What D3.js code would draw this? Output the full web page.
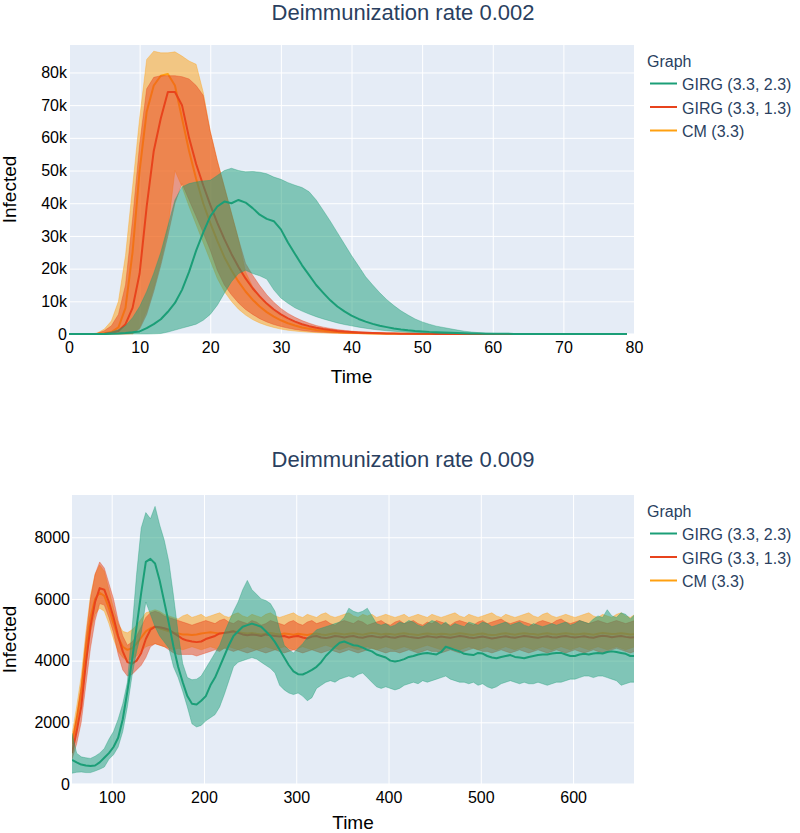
<!DOCTYPE html>
<html>
<head>
<meta charset="utf-8">
<script src="https://cdn.jsdelivr.net/npm/d3@7"></script>
<style>
  html, body { margin: 0; padding: 0; background: #fff; }
  svg { display: block; }
</style>
</head>
<body>
<script>
// ---------------- DATA ----------------
const seriesNames = ["GIRG (3.3, 2.3)", "GIRG (3.3, 1.3)", "CM (3.3)"];
const seriesColors = ["#1b9e77", "#e8431c", "#ffa010"];

// Top panel: deimmunization rate 0.002, time steps 0..79
const topTimes = d3.range(0, 80);
const topXTicks = [0, 10, 20, 30, 40, 50, 60, 70, 80];
const topXTickLabels = ["0", "10", "20", "30", "40", "50", "60", "70", "80"];
const topYTicks = [0, 10000, 20000, 30000, 40000, 50000, 60000, 70000, 80000];
const topYTickLabels = ["0", "10k", "20k", "30k", "40k", "50k", "60k", "70k", "80k"];

const topGreenUpper = [0,0,0,0,50,200,600,1300,2500,5000,
  8400,13000,18600,25000,33000,41000,45000,46000,46500,46800,
  47000,48500,50000,50700,50000,49600,49700,49500,49000,48000,
  47300,46300,45500,44800,43500,41000,37800,34500,31000,27500,
  24000,20800,17500,15000,12600,10500,8700,7100,5800,4600,
  3700,3000,2400,2000,1600,1200,850,600,420,280,
  190,130,90,60,40,28,20,14,10,7,
  5,4,3,2,2,1,1,1,0,0];
const topGreenMean = [0,0,0,0,5,20,60,130,280,500,
  800,1800,3000,4500,6800,9500,13500,19000,25500,31000,
  36000,39000,40500,40000,41000,40200,38500,36500,35200,34500,
  32000,28000,24500,21000,18000,15000,12600,10300,8400,6900,
  5600,4600,3800,3100,2500,2100,1700,1400,1150,950,
  800,650,550,450,380,300,230,180,140,110,
  85,65,50,38,29,22,17,13,10,8,
  6,5,4,3,2,2,1,1,1,0];
const topGreenLower = [0,0,0,0,0,0,0,0,0,0,
  0,0,50,150,600,1200,1800,2400,3000,4200,
  6000,8800,12500,16000,18500,19500,18500,17800,16800,13500,
  11000,9400,8000,7000,6100,5300,4600,4000,3400,2900,
  2500,2100,1750,1450,1200,1000,820,680,550,450,
  360,290,230,180,140,110,85,65,50,40,
  30,22,16,12,9,7,5,4,3,2,
  2,1,0,0,0,0,0,0,0,0];

const topRedUpper = [0,0,0,0,200,1000,2500,6000,15000,35000,
  58000,75000,78500,79000,79000,79000,78700,78000,76000,73000,
  62000,53000,45000,37000,29000,21600,18000,14800,12000,9700,
  7800,6300,5100,4100,3300,2600,2100,1700,1350,1100,
  870,690,550,440,350,280,220,175,140,110,
  85,65,50,40,30,20,12,7,4,2,
  0,0,0,0,0,0,0,0,0,0,
  0,0,0,0,0,0,0,0,0,0];
const topRedMean = [0,0,0,0,20,100,300,900,3000,8000,
  18500,39000,56000,66000,74000,74000,70000,60000,52000,45500,
  39500,34000,29000,24500,20500,17000,14000,11500,9300,7500,
  6000,4800,3800,3000,2400,1900,1500,1200,950,750,
  600,470,370,290,230,180,140,110,85,65,
  50,40,30,22,16,12,8,5,3,2,
  0,0,0,0,0,0,0,0,0,0,
  0,0,0,0,0,0,0,0,0,0];
const topRedLower = [0,0,0,0,0,0,0,0,0,200,
  1500,6000,13000,21000,30000,40000,46000,41000,36000,31000,
  25700,19500,15000,12000,9500,7500,6000,4700,3700,2900,
  2300,1800,1400,1100,850,650,500,390,300,230,
  180,140,105,80,60,45,35,25,18,13,
  9,6,4,2,1,0,0,0,0,0,
  0,0,0,0,0,0,0,0,0,0,
  0,0,0,0,0,0,0,0,0,0];

const topCmUpper = [0,0,0,0,300,1500,4000,10000,24000,45000,
  66000,84000,86500,86000,86000,86300,85000,83500,82500,74000,
  62000,53000,45000,37000,29000,19000,14500,11500,9000,7000,
  5500,4300,3400,2700,2100,1650,1300,1000,800,620,
  480,380,300,230,180,140,110,85,65,50,
  40,30,22,16,12,8,5,3,2,1,
  0,0,0,0,0,0,0,0,0,0,
  0,0,0,0,0,0,0,0,0,0];
const topCmMean = [0,0,0,0,50,200,600,2000,8000,25000,
  50000,68000,76000,79000,79500,76000,66000,56000,47500,40000,
  34000,28500,23500,19500,16000,13000,10500,8400,6700,5300,
  4200,3300,2600,2000,1600,1250,1000,780,610,480,
  370,290,225,175,135,105,80,62,48,37,
  28,21,16,12,9,6,4,3,2,1,
  0,0,0,0,0,0,0,0,0,0,
  0,0,0,0,0,0,0,0,0,0];
const topCmLower = [0,0,0,0,0,0,0,0,0,0,
  2000,7000,14000,22000,32000,50000,45000,39000,33500,28000,
  22500,17000,13000,10000,7600,5800,4400,3400,2600,2000,
  1500,1150,900,700,540,420,320,250,190,150,
  115,90,70,55,42,32,25,19,15,11,
  8,6,4,3,2,1,0,0,0,0,
  0,0,0,0,0,0,0,0,0,0,
  0,0,0,0,0,0,0,0,0,0];

// Bottom panel: deimmunization rate 0.009, sampled every 5 time units from 57
const botTimes = d3.range(57, 668, 5);
const botXTicks = [100, 200, 300, 400, 500, 600];
const botXTickLabels = ["100", "200", "300", "400", "500", "600"];
const botYTicks = [0, 2000, 4000, 6000, 8000];
const botYTickLabels = ["0", "2000", "4000", "6000", "8000"];

const botGreenMean = [780,700,630,600,580,600,700,850,1000,1200,
  1500,2100,3000,4000,5100,6200,7200,7300,7150,6600,
  5900,5200,4450,3800,3300,2850,2600,2580,2700,2850,
  3200,3450,3800,4150,4500,4800,4950,5100,5150,5200,
  5150,5100,4950,4800,4600,4350,4100,3850,3650,3560,
  3550,3620,3700,3800,3950,4150,4300,4450,4580,4620,
  4560,4500,4480,4420,4350,4300,4200,4150,4100,4000,
  3970,4000,4050,4120,4150,4200,4230,4250,4220,4200,
  4280,4450,4400,4350,4300,4220,4200,4180,4250,4230,
  4150,4100,4080,4120,4150,4180,4120,4100,4080,4120,
  4150,4180,4200,4200,4230,4250,4250,4200,4150,4150,
  4200,4220,4200,4230,4250,4230,4280,4300,4280,4250,
  4220,4150,4150];
const botGreenUpper = [1650,1000,880,850,830,900,1000,1150,1450,1700,
  2100,2600,3300,5000,6800,8300,8800,8600,9000,8400,
  7900,7200,6100,4900,3900,3450,3380,3400,3500,3750,
  4000,4250,4500,4900,5250,5600,5900,6300,6600,6300,
  6150,6000,5950,5850,5600,5000,4500,4350,4250,4400,
  4550,4750,4850,5000,5050,5100,5150,5200,5250,5400,
  5700,5600,5550,5600,5700,5450,5200,5150,5200,5100,
  5150,5250,5200,5300,5250,5150,5100,5200,5300,5250,
  5150,5250,5100,5200,5150,5100,5250,5200,5150,5250,
  5200,5100,5150,5200,5250,5150,5200,5250,5150,5100,
  5200,5150,5100,5150,5200,5150,5200,5250,5150,5200,
  5300,5250,5200,5350,5450,5400,5650,5450,5400,5550,
  5500,5350,5500];
const botGreenLower = [350,380,390,370,370,420,480,550,800,950,
  1200,1700,2500,3500,4300,4900,5900,5500,5100,4800,
  4600,4400,3800,3450,3000,2500,1950,1850,1900,2050,
  2150,2250,2500,2900,3350,3800,3950,4000,4050,4100,
  4050,3950,3850,3750,3600,3200,3050,2950,2900,2950,
  2850,2700,2800,3100,3200,3300,3350,3300,3400,3450,
  3500,3450,3550,3600,3450,3300,3150,3100,3150,3100,
  3050,3100,3200,3250,3300,3250,3350,3300,3350,3400,
  3450,3500,3400,3350,3300,3300,3250,3300,3200,3250,
  3150,3100,3150,3250,3300,3350,3300,3250,3300,3250,
  3250,3300,3250,3200,3250,3300,3300,3350,3400,3400,
  3450,3500,3500,3450,3500,3500,3450,3400,3350,3200,
  3250,3300,3300];

const botRedMean = [1000,1700,2500,3900,5100,5900,6350,6300,5900,5400,
  4800,4300,3950,3900,4000,4250,4700,5000,5100,5080,
  5050,5000,4900,4800,4700,4650,4620,4600,4620,4700,
  4750,4800,4880,4900,4920,4950,4900,4850,4820,4850,
  4830,4800,4850,4820,4800,4780,4800,4750,4780,4800,
  4750,4720,4780,4800,4750,4730,4760,4800,4780,4750,
  4780,4800,4760,4740,4780,4800,4770,4750,4790,4760,
  4740,4780,4800,4770,4750,4730,4760,4790,4770,4750,
  4780,4760,4740,4770,4800,4780,4750,4730,4760,4780,
  4750,4720,4740,4770,4790,4760,4740,4770,4800,4780,
  4760,4740,4770,4790,4760,4750,4780,4800,4770,4750,
  4770,4790,4760,4740,4780,4810,4790,4760,4780,4800,
  4770,4750,4760];
const botRedUpper = [1400,2200,3200,4700,6000,6800,7200,7000,6500,6000,
  5300,4800,4500,4600,4800,5100,5400,5550,5600,5550,
  5450,5400,5350,5300,5250,5200,5150,5200,5250,5300,
  5250,5200,5300,5350,5250,5200,5300,5250,5200,5300,
  5250,5150,5200,5300,5250,5200,5150,5250,5300,5200,
  5150,5250,5300,5200,5250,5300,5200,5150,5250,5300,
  5250,5200,5300,5250,5150,5200,5250,5300,5200,5150,
  5250,5300,5200,5250,5300,5200,5150,5250,5200,5300,
  5250,5200,5150,5250,5300,5250,5200,5150,5250,5300,
  5200,5250,5300,5350,5250,5200,5250,5300,5250,5200,
  5150,5250,5300,5250,5200,5300,5350,5250,5200,5250,
  5300,5250,5200,5250,5300,5250,5200,5250,5300,5250,
  5200,5250,5300];
const botRedLower = [800,1300,2000,3200,4400,5300,5850,5800,5400,4900,
  4200,3700,3500,3550,3700,3850,4100,4450,4550,4500,
  4450,4350,4250,4200,4200,4200,4200,4150,4200,4250,
  4300,4350,4300,4400,4350,4300,4350,4300,4250,4300,
  4350,4300,4250,4300,4350,4300,4250,4300,4350,4300,
  4250,4300,4350,4300,4250,4300,4350,4300,4250,4300,
  4350,4300,4250,4300,4350,4400,4350,4300,4250,4300,
  4300,4250,4300,4350,4300,4250,4300,4350,4300,4300,
  4250,4300,4350,4300,4250,4300,4350,4400,4350,4300,
  4300,4250,4300,4350,4300,4250,4300,4350,4300,4250,
  4300,4350,4300,4250,4300,4350,4300,4250,4300,4350,
  4300,4250,4300,4350,4300,4250,4300,4350,4400,4350,
  4300,4250,4300];

const botCmMean = [1300,2100,3000,4400,5400,6000,6200,6100,5700,5200,
  4750,4450,4350,4400,4550,4750,4950,5050,5100,5050,
  5000,4950,4900,4880,4850,4850,4830,4850,4880,4900,
  4920,4900,4880,4900,4930,4950,4920,4900,4880,4900,
  4870,4850,4880,4900,4870,4850,4880,4860,4840,4870,
  4850,4830,4860,4880,4850,4830,4860,4890,4870,4850,
  4870,4890,4860,4840,4870,4900,4880,4850,4870,4860,
  4840,4870,4890,4860,4850,4830,4860,4880,4860,4850,
  4870,4860,4840,4860,4890,4870,4850,4830,4860,4880,
  4850,4830,4840,4870,4890,4860,4840,4870,4890,4870,
  4860,4840,4870,4890,4860,4850,4870,4890,4870,4850,
  4860,4880,4860,4840,4870,4900,4880,4860,4870,4890,
  4870,4850,4860];
const botCmUpper = [1600,2500,3500,4900,6100,6800,7100,6900,6300,5700,
  5200,4950,4900,5000,5150,5350,5550,5600,5650,5600,
  5500,5450,5400,5350,5450,5500,5400,5450,5500,5400,
  5450,5500,5550,5450,5400,5500,5550,5450,5400,5500,
  5450,5400,5500,5550,5450,5400,5450,5500,5550,5450,
  5400,5500,5450,5400,5500,5550,5450,5400,5450,5500,
  5550,5450,5400,5500,5450,5500,5400,5450,5500,5450,
  5400,5450,5500,5400,5450,5500,5450,5400,5500,5450,
  5400,5450,5500,5550,5450,5400,5500,5450,5400,5450,
  5500,5550,5450,5400,5500,5450,5400,5450,5500,5550,
  5450,5400,5500,5550,5450,5400,5450,5500,5450,5400,
  5450,5500,5550,5450,5400,5500,5450,5400,5500,5550,
  5450,5400,5500];
const botCmLower = [1200,1800,2600,3900,4900,5500,5700,5600,5200,4700,
  4300,4100,4000,4050,4150,4300,4450,4500,4550,4500,
  4450,4400,4350,4400,4350,4400,4450,4400,4350,4400,
  4450,4400,4350,4400,4450,4400,4350,4400,4450,4400,
  4350,4400,4450,4400,4350,4400,4450,4400,4350,4400,
  4450,4400,4350,4400,4450,4500,4450,4400,4350,4400,
  4450,4400,4350,4400,4450,4400,4350,4400,4450,4400,
  4350,4400,4450,4400,4350,4400,4450,4500,4450,4400,
  4350,4400,4450,4400,4350,4400,4450,4400,4350,4400,
  4450,4400,4350,4400,4450,4400,4350,4400,4450,4400,
  4350,4400,4450,4400,4350,4400,4450,4400,4350,4400,
  4450,4400,4350,4400,4450,4400,4350,4400,4450,4400,
  4350,4400,4450];

// ---------------- DRAWING ----------------
const FONT = "'Liberation Sans', Arial, Helvetica, sans-serif";
const TITLE_COLOR = "#2a3f5f";

const svg = d3.select("body").append("svg")
  .attr("width", 800).attr("height", 833)
  .style("font-family", FONT);

function drawPanel(p) {
  const x = d3.scaleLinear().domain(p.xDomain).range([p.left, p.right]);
  const y = d3.scaleLinear().domain(p.yDomain).range([p.bottom, p.top]);
  const g = svg.append("g");

  g.append("rect")
    .attr("x", p.left).attr("y", p.top)
    .attr("width", p.right - p.left).attr("height", p.bottom - p.top)
    .attr("fill", "#e5ecf6");

  // grid lines
  g.append("g").attr("transform", `translate(0,${p.bottom})`)
    .call(d3.axisBottom(x).tickValues(p.xTicks).tickSize(-(p.bottom - p.top)).tickFormat(""))
    .call(a => { a.select(".domain").remove(); a.selectAll("line").attr("stroke", "#fff").attr("stroke-width", 1); });
  g.append("g").attr("transform", `translate(${p.left},0)`)
    .call(d3.axisLeft(y).tickValues(p.yTicks).tickSize(-(p.right - p.left)).tickFormat(""))
    .call(a => {
      a.select(".domain").remove();
      a.selectAll("line").attr("stroke", "#fff").attr("stroke-width", d => d === 0 ? 2 : 1);
    });

  const clipId = "clip-" + p.key;
  svg.append("clipPath").attr("id", clipId).append("rect")
    .attr("x", p.left).attr("y", p.top - 1)
    .attr("width", p.right - p.left).attr("height", p.bottom - p.top + 2);
  const plot = g.append("g").attr("clip-path", `url(#${clipId})`);

  p.drawOrder.forEach(k => {
    const s = p.series[k];
    const data = p.times.map((t, i) => ({ t, lo: s.lower[i], hi: s.upper[i], m: s.mean[i] }));
    plot.append("path").datum(data)
      .attr("d", d3.area().x(d => x(d.t)).y0(d => y(d.lo)).y1(d => y(d.hi)))
      .attr("fill", s.color).attr("fill-opacity", 0.5).attr("stroke", "none");
    ["lo", "hi"].forEach(key => {
      plot.append("path").datum(data)
        .attr("d", d3.line().x(d => x(d.t)).y(d => y(d[key])))
        .attr("fill", "none").attr("stroke", s.color)
        .attr("stroke-opacity", 0.45).attr("stroke-width", 0.8);
    });
    plot.append("path").datum(data)
      .attr("d", d3.line().x(d => x(d.t)).y(d => y(d.m)))
      .attr("fill", "none").attr("stroke", s.color)
      .attr("stroke-width", 2).attr("stroke-linejoin", "round");
  });

  // tick labels
  g.append("g").attr("transform", `translate(0,${p.bottom})`)
    .call(d3.axisBottom(x).tickValues(p.xTicks).tickFormat((d, i) => p.xLabels[i]).tickSize(0).tickPadding(8))
    .call(a => {
      a.select(".domain").remove();
      a.selectAll("text").attr("font-size", 16).attr("font-family", FONT).attr("fill", "#000");
    });
  g.append("g").attr("transform", `translate(${p.left},0)`)
    .call(d3.axisLeft(y).tickValues(p.yTicks).tickFormat((d, i) => p.yLabels[i]).tickSize(0).tickPadding(2))
    .call(a => {
      a.select(".domain").remove();
      a.selectAll("text").attr("font-size", 16).attr("font-family", FONT).attr("fill", "#000");
    });

  // axis titles
  g.append("text")
    .attr("x", (p.left + p.right) / 2).attr("y", p.xTitleY)
    .attr("text-anchor", "middle").attr("font-size", 19).attr("fill", "#000")
    .text("Time");
  g.append("text")
    .attr("transform", `translate(15.5,${(p.top + p.bottom) / 2}) rotate(-90)`)
    .attr("text-anchor", "middle").attr("font-size", 19).attr("fill", "#000")
    .text("Infected");

  // title
  g.append("text")
    .attr("x", 403).attr("y", p.titleY)
    .attr("text-anchor", "middle").attr("font-size", 22).attr("fill", TITLE_COLOR)
    .text(p.title);

  // legend
  const lg = g.append("g");
  lg.append("text").attr("x", 647).attr("y", p.legendY)
    .attr("font-size", 16).attr("fill", TITLE_COLOR).text("Graph");
  seriesNames.forEach((name, i) => {
    const by = p.legendY + 23.5 * (i + 1);
    lg.append("line").attr("x1", 650).attr("x2", 677)
      .attr("y1", by - 6.5).attr("y2", by - 6.5)
      .attr("stroke", seriesColors[i]).attr("stroke-width", 2);
    lg.append("text").attr("x", 682).attr("y", by)
      .attr("font-size", 16).attr("fill", TITLE_COLOR).text(name);
  });
}

drawPanel({
  key: "top",
  left: 69, right: 634, top: 45, bottom: 334,
  xDomain: [0, 80], yDomain: [0, 88400],
  xTicks: topXTicks, xLabels: topXTickLabels,
  yTicks: topYTicks, yLabels: topYTickLabels,
  times: topTimes,
  series: [
    { color: seriesColors[0], upper: topGreenUpper, mean: topGreenMean, lower: topGreenLower },
    { color: seriesColors[1], upper: topRedUpper, mean: topRedMean, lower: topRedLower },
    { color: seriesColors[2], upper: topCmUpper, mean: topCmMean, lower: topCmLower }
  ],
  drawOrder: [2, 1, 0],
  title: "Deimmunization rate 0.002", titleY: 20,
  xTitleY: 383, legendY: 66.5
});

drawPanel({
  key: "bot",
  left: 72, right: 634, top: 495, bottom: 784,
  xDomain: [57, 666], yDomain: [0, 9370],
  xTicks: botXTicks, xLabels: botXTickLabels,
  yTicks: botYTicks, yLabels: botYTickLabels,
  times: botTimes,
  series: [
    { color: seriesColors[0], upper: botGreenUpper, mean: botGreenMean, lower: botGreenLower },
    { color: seriesColors[1], upper: botRedUpper, mean: botRedMean, lower: botRedLower },
    { color: seriesColors[2], upper: botCmUpper, mean: botCmMean, lower: botCmLower }
  ],
  drawOrder: [2, 1, 0],
  title: "Deimmunization rate 0.009", titleY: 467,
  xTitleY: 828.5, legendY: 516.5
});
</script>
</body>
</html>
